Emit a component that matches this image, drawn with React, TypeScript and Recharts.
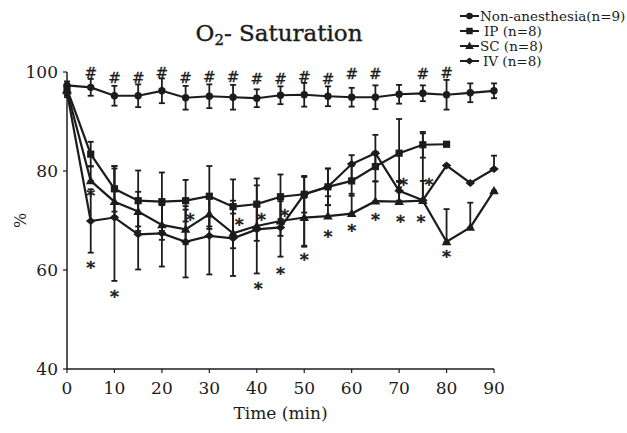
import { ComposedChart, Line, Scatter, XAxis, YAxis, ErrorBar } from "recharts";

const INK = "#1c1c1c";
const FONT = "'DejaVu Serif', serif";

// sampling times (min)
const times = [0, 5, 10, 15, 20, 25, 30, 35, 40, 45, 50, 55, 60, 65, 70, 75, 80, 85, 90];

const nonAnesthesia = [97.3, 96.9, 95.2, 95.2, 96.2, 94.8, 95.1, 94.9, 94.7, 95.3, 95.4, 95.1, 94.9, 94.9, 95.5, 95.7, 95.4, 95.8, 96.2];
const nonErr = [0.8, 1.7, 2.0, 2.3, 2.5, 2.4, 2.4, 2.5, 1.8, 1.8, 2.4, 2.0, 1.9, 2.4, 1.9, 1.6, 3.0, 1.9, 1.5];

// IP stops at 80 min
const ipValues = [96.6, 83.4, 76.4, 74.0, 73.8, 74.0, 74.9, 72.8, 73.3, 74.8, 75.3, 76.8, 78.0, 80.9, 83.6, 85.3, 85.4];
const ipErr = [1.0, 2.5, 4.6, 6.1, 5.9, 4.2, 6.1, 5.5, 5.2, 4.5, 3.7, 3.7, 3.0, 3.0, 6.9, 2.6, 0];

const scValues = [96.2, 78.0, 73.8, 71.8, 69.1, 68.2, 71.3, 67.4, 68.9, 69.9, 70.6, 70.9, 71.4, 73.9, 73.8, 74.0, 65.7, 68.6, 76.0];
const scErrDown = [1, 0, 3, 3, 3, 3, 3, 3, 3, 3, 5.7, 0, 0, 0, 0, 0, 0, 0, 0];
const scErrUp = [1, 3, 6.7, 4, 4, 4, 4, 4, 4, 4, 4, 4, 4, 4, 4, 4, 6.6, 5.0, 0];

const ivValues = [95.9, 69.9, 70.6, 67.2, 67.4, 65.7, 66.9, 66.4, 68.2, 68.6, 75.3, 76.8, 81.4, 83.6, 76.0, 74.1, 81.1, 77.6, 80.4];
const ivErrDown = [1, 6.4, 12.8, 7.1, 6.7, 7.2, 7.8, 7.6, 8.9, 5.9, 10.6, 3.7, 3.0, 3.0, 2.0, 0, 0, 0, 0];
const ivErrUp = [1, 6.4, 10.4, 7.1, 6.7, 7.2, 7.8, 7.6, 8.9, 5.9, 3.5, 3.7, 1.8, 3.7, 2.0, 13.5, 0, 0, 2.7];

// significance marks [time, value]
const starMarks = [
  [5, 75.8], [5, 61.2], [10, 55.3], [26, 70.9], [36.3, 69.8], [41, 70.9], [40.3, 57.0],
  [45.9, 71.8], [45, 59.9], [50, 62.8], [55, 67.5], [60, 68.6], [65, 70.9], [70.3, 70.6],
  [74.6, 70.6], [70.9, 78.0], [76.3, 78.0], [80, 63.4],
];
const hashMarks = [
  [5, 99.8], [10, 98.8], [15, 98.8], [20, 99.8], [25, 98.8], [30, 99.0], [35, 99.1], [40, 98.6],
  [45, 98.6], [50, 99.0], [55, 98.6], [60, 99.6], [65, 99.6], [75, 99.6], [80, 100.0],
];

const xTicks = [0, 10, 20, 30, 40, 50, 60, 70, 80, 90];
const yTicks = [40, 60, 80, 100];
const seriesNames = ["Non-anesthesia(n=9)", "IP (n=8)", "SC (n=8)", "IV (n=8)"];
const seriesShapes = ["circle", "square", "triangle", "diamond"];

const rows = (vals: number[], lo: number[], hi: number[]) =>
  vals.map((v, i) => ({ t: times[i], v, e: [lo[i], hi[i]] }));

const nonData = rows(nonAnesthesia, nonErr, nonErr);
const ipData = rows(ipValues, ipErr, ipErr);
const scData = rows(scValues, scErrDown, scErrUp);
const ivData = rows(ivValues, ivErrDown, ivErrUp);
const starData = starMarks.map(([t, v]) => ({ t, v }));
const hashData = hashMarks.map(([t, v]) => ({ t, v }));

function Marker({ shape, cx, cy, s = 1 }: { shape: string; cx: number; cy: number; s?: number }) {
  if (shape === "circle") return <circle cx={cx} cy={cy} r={3.7 * s} fill={INK} />;
  if (shape === "square")
    return <rect x={cx - 3.6 * s} y={cy - 3.6 * s} width={7.2 * s} height={7.2 * s} fill={INK} />;
  if (shape === "triangle")
    return (
      <polygon
        points={`${cx},${cy - 4.8 * s} ${cx + 4.8 * s},${cy + 3.4 * s} ${cx - 4.8 * s},${cy + 3.4 * s}`}
        fill={INK}
      />
    );
  return (
    <polygon
      points={`${cx},${cy - 4 * s} ${cx + 4.8 * s},${cy} ${cx},${cy + 4 * s} ${cx - 4.8 * s},${cy}`}
      fill={INK}
    />
  );
}

const dotFor = (shape: string) => (p: any) =>
  <Marker key={`${shape}-${p.index}`} shape={shape} cx={p.cx} cy={p.cy} />;

// small glyphs get stroked so they render solid black
const StarShape = (p: any) => (
  <text
    x={p.cx}
    y={p.cy + 10}
    textAnchor="middle"
    fontSize={17}
    fontFamily={FONT}
    style={{ fill: INK, stroke: INK, strokeWidth: 0.6 }}
  >
    *
  </text>
);
const HashShape = (p: any) => (
  <text
    x={p.cx}
    y={p.cy + 5.5}
    textAnchor="middle"
    fontSize={15}
    fontFamily={FONT}
    style={{ fill: INK, stroke: INK, strokeWidth: 0.3 }}
  >
    #
  </text>
);

const errBar = <ErrorBar dataKey="e" direction="y" width={3} stroke={INK} strokeWidth={1.8} />;

export default function App() {
  const tick = { fontSize: 17, fill: INK, fontFamily: FONT };
  return (
    <div style={{ position: "absolute", left: 0, top: 0, width: 627, height: 433, background: "#fff", fontFamily: FONT }}>
      <div
        style={{
          position: "absolute", left: 129, top: 22, width: 300, textAlign: "center",
          fontSize: 23, lineHeight: "23px", color: INK, WebkitTextStroke: "0.4px " + INK,
        }}
      >
        O<sub style={{ fontSize: "0.65em", verticalAlign: "-0.25em" }}>2</sub>- Saturation
      </div>
      <div style={{ position: "absolute", left: 460, top: 8, fontSize: 13.5, color: INK }}>
        {seriesNames.map((name, i) => (
          <div key={name} style={{ display: "flex", alignItems: "center", height: 15 }}>
            <svg width={19} height={12}>
              <line x1={0} y1={6} x2={19} y2={6} stroke={INK} strokeWidth={2} />
              <Marker shape={seriesShapes[i]} cx={9.5} cy={6} s={0.9} />
            </svg>
            <span style={{ marginLeft: [1, 5, 1, 4][i], whiteSpace: "nowrap" }}>{name}</span>
          </div>
        ))}
      </div>
      <ComposedChart width={627} height={433} margin={{ top: 72, right: 133, bottom: 14, left: 17 }}>
        <XAxis
          dataKey="t"
          type="number"
          domain={[0, 90]}
          ticks={xTicks}
          tick={tick}
          tickSize={4}
          tickMargin={9}
          height={50}
          axisLine={{ stroke: INK, strokeWidth: 1.5 }}
          tickLine={{ stroke: INK, strokeWidth: 1.2 }}
          label={{ value: "Time (min)", position: "insideBottom", offset: 0, fontSize: 17, fill: INK, fontFamily: FONT }}
        />
        <YAxis
          type="number"
          domain={[40, 100]}
          ticks={yTicks}
          tick={tick}
          tickSize={4}
          tickMargin={5}
          width={50}
          axisLine={{ stroke: INK, strokeWidth: 1.5 }}
          tickLine={{ stroke: INK, strokeWidth: 1.2 }}
          label={{ value: "%", angle: -90, position: "insideLeft", offset: 3, fontSize: 16, fill: INK, fontFamily: FONT, style: { textAnchor: "middle" } }}
        />
        <Line data={nonData} dataKey="v" stroke={INK} strokeWidth={2.2} dot={dotFor("circle")} activeDot={false} isAnimationActive={false}>
          {errBar}
        </Line>
        <Line data={ipData} dataKey="v" stroke={INK} strokeWidth={2.2} dot={dotFor("square")} activeDot={false} isAnimationActive={false}>
          {errBar}
        </Line>
        <Line data={scData} dataKey="v" stroke={INK} strokeWidth={2.2} dot={dotFor("triangle")} activeDot={false} isAnimationActive={false}>
          {errBar}
        </Line>
        <Line data={ivData} dataKey="v" stroke={INK} strokeWidth={2.2} dot={dotFor("diamond")} activeDot={false} isAnimationActive={false}>
          {errBar}
        </Line>
        <Scatter data={starData} dataKey="v" shape={StarShape} isAnimationActive={false} />
        <Scatter data={hashData} dataKey="v" shape={HashShape} isAnimationActive={false} />
      </ComposedChart>
    </div>
  );
}
